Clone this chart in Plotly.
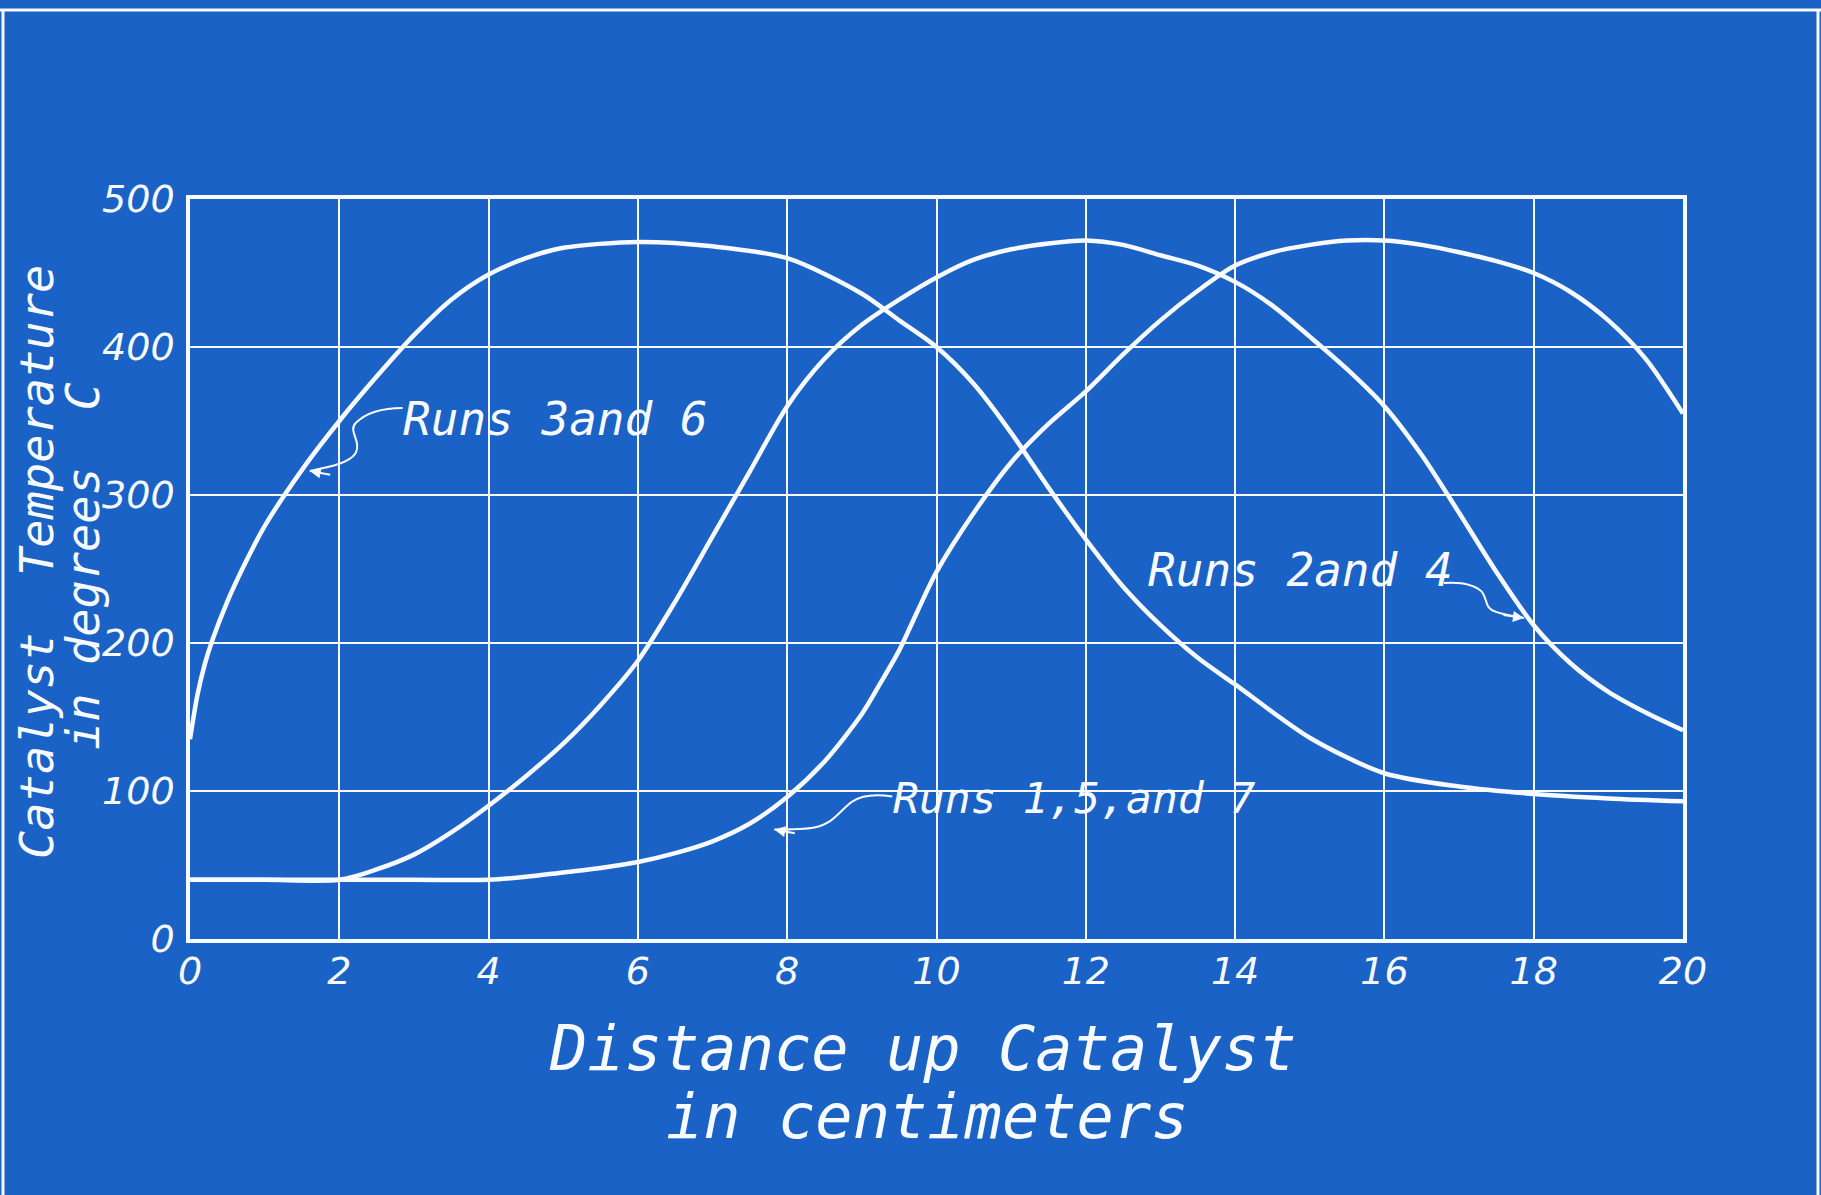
import numpy as np
import plotly.graph_objects as go

# Distance up the catalyst bed (cm) and temperature (deg C) for each group of runs
runs_3_6_x = [0, 0.1, 0.2, 0.3, 0.5, 0.75, 1, 1.5, 2, 2.5, 3, 3.5, 4, 4.5, 5, 6, 7, 8, 9,
              9.5, 10, 10.5, 11, 11.5, 12, 12.5, 13, 13.5, 14, 15, 16, 17, 18, 19, 20]
runs_3_6_t = [135, 165, 186, 202, 228, 255, 279, 317, 350, 380, 408, 432, 449, 460, 467, 471, 468, 460, 436,
              418, 400, 375, 342, 305, 270, 238, 212, 190, 172, 136, 112, 103, 98, 95, 93]

runs_2_4_x = [0, 1, 2, 2.5, 3, 3.5, 4, 4.5, 5, 5.5, 6, 6.5, 7, 7.5, 8, 8.5, 9, 9.5, 10, 10.5,
              11, 11.5, 12, 12.5, 13, 13.5, 14, 14.5, 15, 15.5, 16, 16.5, 17, 17.5, 18, 18.5, 19, 19.5, 20]
runs_2_4_t = [40, 40, 40, 47, 57, 72, 90, 110, 132, 158, 188, 228, 272, 316, 360, 392, 415, 432, 447, 459,
              466, 470, 472, 469, 462, 455, 444, 428, 407, 385, 360, 327, 288, 248, 212, 186, 167, 153, 141]

runs_1_5_7_x = [0, 1, 2, 3, 4, 4.5, 5, 5.5, 6, 6.5, 7, 7.5, 8, 8.5, 9, 9.25, 9.5, 9.75, 10, 10.5,
                11, 11.5, 12, 12.5, 13, 13.5, 14, 14.5, 15, 15.5, 16, 16.5, 17, 17.5, 18, 18.5, 19, 19.5, 20]
runs_1_5_7_t = [40, 40, 40, 40, 40, 42, 45, 48, 52, 58, 66, 78, 96, 120, 152, 173, 195, 222, 248, 288,
                322, 348, 370, 395, 418, 438, 455, 464, 469, 472, 472, 469, 464, 458, 450, 437, 418, 392, 355]

x_ticks = [0, 2, 4, 6, 8, 10, 12, 14, 16, 18, 20]
y_ticks = [0, 100, 200, 300, 400, 500]

BLUE = "#1a62c6"
WHITE = "#f7faff"
LETTER_FONT = "DejaVu Sans Mono"
DIGIT_FONT = "DejaVu Sans"

W, H = 1821, 1195
L, R, T, B = 190, 138, 199, 256
PW, PH = W - L - R, H - T - B


def px_x(p):
    return (p - L) / PW


def px_y(p):
    return (H - B - p) / PH


fig = go.Figure()
for xs, ts in [(runs_3_6_x, runs_3_6_t), (runs_2_4_x, runs_2_4_t), (runs_1_5_7_x, runs_1_5_7_t)]:
    fig.add_trace(go.Scatter(x=xs, y=ts, mode="lines",
                             line=dict(color=WHITE, width=4.5, shape="spline", smoothing=0.8),
                             hoverinfo="skip", showlegend=False))

tick_font = dict(family=DIGIT_FONT, size=38, color=WHITE, style="italic")
fig.update_xaxes(range=[0, 20], tickvals=x_ticks, ticktext=[str(v) for v in x_ticks],
                 showgrid=True, gridcolor=WHITE, gridwidth=2, zeroline=False,
                 showline=True, linecolor=WHITE, linewidth=3.5, mirror=True,
                 ticks="", ticklabelstandoff=-4, tickfont=tick_font)
fig.update_yaxes(range=[0, 500], tickvals=y_ticks, ticktext=[str(v) for v in y_ticks],
                 showgrid=True, gridcolor=WHITE, gridwidth=2, zeroline=False,
                 showline=True, linecolor=WHITE, linewidth=3.5, mirror=True,
                 ticks="", ticklabelstandoff=4, tickfont=tick_font)

shapes = []
# masks that open the grid behind the hand-lettered labels
for x0, x1, y0, y1 in [(395, 725, 448, 395), (1140, 1460, 597, 541), (843, 1265, 830, 766)]:
    shapes.append(dict(type="rect", xref="paper", yref="paper", layer="between",
                       x0=px_x(x0), x1=px_x(x1), y0=px_y(y0), y1=px_y(y1),
                       fillcolor=BLUE, line=dict(width=0)))

# sheet border
for x0, y0, x1, y1 in [(0, 10, W, 10), (3, 10, 3, H), (1818, 10, 1818, H)]:
    shapes.append(dict(type="line", xref="paper", yref="paper", layer="above",
                       x0=px_x(x0), y0=px_y(y0), x1=px_x(x1), y1=px_y(y1),
                       line=dict(color=WHITE, width=3)))

# wavy leader lines from each label to its curve (pixel offsets from the curve point)
leaders = [
    (1.55, runs_3_6_x, runs_3_6_t, (4, -6), "M97,57 C79,57 62,54 50,42 C42,34 56,24 50,12 C44,2 24,-2 4,-6"),
    (17.95, runs_2_4_x, runs_2_4_t, (-6, 2), "M-86,37 C-71,38 -56,36 -48,28 C-42,20 -46,12 -34,8 C-26,5 -16,4 -6,2"),
    (7.8, runs_1_5_7_x, runs_1_5_7_t, (2, -22), "M120,11 C107,13 92,14 80,6 C68,-2 62,-16 42,-20 C32,-22 17,-22 2,-22"),
]
annotations = []
for xa, xs, ts, tip, path in leaders:
    ya = float(np.interp(xa, xs, ts))
    shapes.append(dict(type="path", xref="x", yref="y", xsizemode="pixel", ysizemode="pixel",
                       xanchor=xa, yanchor=ya, path=path, layer="above",
                       line=dict(color=WHITE, width=2)))
    annotations.append(dict(x=xa, y=ya, xref="x", yref="y", text="", showarrow=True,
                            xshift=tip[0], yshift=tip[1],
                            ax=22 if tip[0] >= 0 else -22, ay=4 if tip[0] >= 0 else -3,
                            arrowhead=2, arrowsize=1.1, arrowwidth=2, arrowcolor=WHITE,
                            standoff=0))

for text, px0, py0, size in [("Runs 3and 6", 401, 419, 46), ("Runs 2and 4", 1146, 570, 46),
                             ("Runs 1,5,and 7", 891, 798, 43)]:
    annotations.append(dict(text=text, x=px_x(px0), y=px_y(py0), xref="paper", yref="paper",
                            xanchor="left", yanchor="middle", showarrow=False,
                            font=dict(family=LETTER_FONT, size=size, color=WHITE, style="italic")))

title_font = dict(family=LETTER_FONT, size=62, color=WHITE, style="italic")
annotations += [
    dict(text="Distance up Catalyst", x=px_x(923), y=px_y(1048), xref="paper", yref="paper",
         xanchor="center", yanchor="middle", showarrow=False, font=title_font),
    dict(text="in centimeters", x=px_x(927), y=px_y(1116), xref="paper", yref="paper",
         xanchor="center", yanchor="middle", showarrow=False, font=title_font),
]
ytitle_font = dict(family=LETTER_FONT, size=47, color=WHITE, style="italic")
annotations += [
    dict(text="Catalyst  Temperature", x=px_x(36), y=px_y(562), xref="paper", yref="paper",
         xanchor="center", yanchor="middle", textangle=-90, showarrow=False, font=ytitle_font),
    dict(text="in degrees  C", x=px_x(82), y=px_y(566), xref="paper", yref="paper",
         xanchor="center", yanchor="middle", textangle=-90, showarrow=False, font=ytitle_font),
]

fig.update_layout(width=W, height=H, autosize=False,
                  margin=dict(l=L, r=R, t=T, b=B),
                  paper_bgcolor=BLUE, plot_bgcolor=BLUE,
                  shapes=shapes, annotations=annotations, showlegend=False)

fig.write_html("out.html")
